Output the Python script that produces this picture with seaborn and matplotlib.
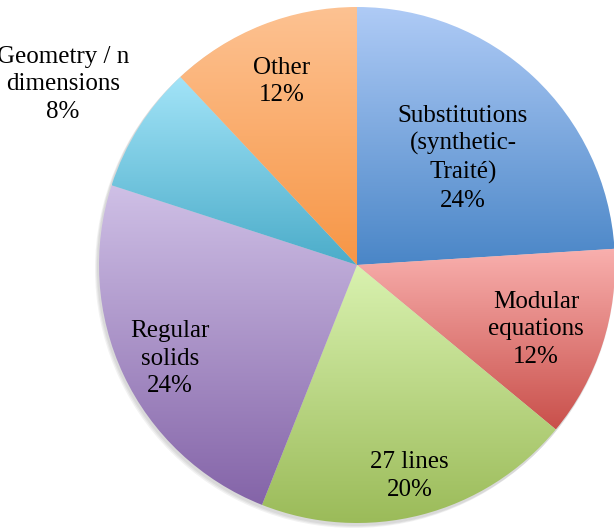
import numpy as np
import matplotlib.pyplot as plt
import seaborn as sns
from matplotlib.colors import LinearSegmentedColormap

# Slice data (clockwise from 12 o'clock)
labels = ['Substitutions\n(synthetic-\nTraité)', 'Modular\nequations', '27 lines',
          'Regular\nsolids', 'Geometry / n\ndimensions', 'Other']
shares = [24, 12, 20, 24, 8, 12]
top_colors = ['#afcbf6', '#f9b0ae', '#d9f2b0', '#cfc0e6', '#a3e4f8', '#fdc292']
bottom_colors = ['#4a86c7', '#c9504b', '#9bbb59', '#8464a8', '#4bacc9', '#f79646']
label_dist = [0.60, 0.73, 0.82, 0.80, 1.35, 0.79]

sns.set_theme(style="white")
plt.rcParams['font.family'] = ['Liberation Serif', 'DejaVu Serif']

W, H = 614, 528
fig = plt.figure(figsize=(W / 100, H / 100), dpi=100)
ax = fig.add_axes([0, 0, 1, 1])

cx, cy, r = 357, 263, 258

# soft shadow under the pie
for k in range(3):
    ax.add_patch(plt.Circle((cx - 1 - k, cy - 2 - k), r + 1, color='black', alpha=0.05, lw=0, zorder=0))

wedges, _ = ax.pie(shares, startangle=90, counterclock=False, center=(cx, cy), radius=r,
                   colors=['none'] * len(shares), wedgeprops=dict(linewidth=0),
                   frame=True)
ax.set_xlim(0, W)
ax.set_ylim(0, H)
ax.axis('off')

# vertical gradient fill per slice
grad = np.linspace(0, 1, 256).reshape(-1, 1)
for w, c0, c1 in zip(wedges, top_colors, bottom_colors):
    cmap = LinearSegmentedColormap.from_list('g', [c1, c0])
    bb = w.get_path().get_extents(w.get_transform())
    ext = bb.transformed(ax.transData.inverted())
    im = ax.imshow(grad, cmap=cmap, origin='lower', aspect='auto',
                   extent=[ext.x0, ext.x1, ext.y0, ext.y1], zorder=1)
    im.set_clip_path(w)

for w, lab, share, d in zip(wedges, labels, shares, label_dist):
    ang = np.deg2rad((w.theta1 + w.theta2) / 2)
    x = cx + d * r * np.cos(ang)
    y = cy + d * r * np.sin(ang) - 6
    ax.text(x, y, f'{lab}\n{share}%', ha='center', va='center', fontsize=18,
            linespacing=1.32, color='black', zorder=3)

fig.savefig('out.png', dpi=100)
